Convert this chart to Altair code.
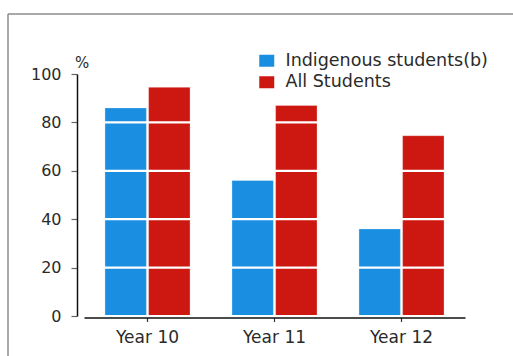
import altair as alt
import pandas as pd

# Apparent retention rates by year level
years = ["Year 10", "Year 11", "Year 12"]
groups = ["Indigenous students(b)", "All Students"]
indigenous = [86, 56, 36]
all_students = [94.5, 87, 74.5]
colors = ["#1a8fe2", "#cc1810"]
y_ticks = [0, 20, 40, 60, 80, 100]
grid_values = [0, 20, 40, 60, 80]

rows = []
for yr, a, b in zip(years, indigenous, all_students):
    rows.append({"year": yr, "group": groups[0], "pct": a})
    rows.append({"year": yr, "group": groups[1], "pct": b})
df = pd.DataFrame(rows)

FONT = "DejaVu Sans"
TEXT = "#2a2a2a"

bars = alt.Chart(df).mark_bar(stroke="white", strokeWidth=0.6, strokeOpacity=0.5).encode(
    x=alt.X(
        "year:N",
        sort=years,
        scale=alt.Scale(paddingInner=0.33, paddingOuter=0.165),
        axis=alt.Axis(
            title=None, labelAngle=0, labelFont=FONT, labelFontSize=17,
            labelColor=TEXT, labelPadding=8, domainColor="#111", domainWidth=1.5,
            tickColor="#333", tickSize=4, tickWidth=1.2, offset=1.5, grid=False,
            zindex=2,
        ),
    ),
    xOffset=alt.XOffset("group:N", sort=groups, scale=alt.Scale(paddingInner=0.05)),
    y=alt.Y(
        "pct:Q",
        scale=alt.Scale(domain=[0, 100], nice=False),
        axis=alt.Axis(
            values=y_ticks, title="%", titleAngle=0, titleAlign="center",
            titleBaseline="alphabetic", titleX=4.5, titleY=-7,
            titleFont=FONT, titleFontSize=15, titleFontWeight="normal", titleColor=TEXT,
            labelFont=FONT, labelFontSize=16, labelColor=TEXT, labelPadding=10,
            domainColor="#111", domainWidth=1.5, tickColor="#666", tickSize=6,
            tickWidth=1.2, offset=7, grid=False,
        ),
    ),
    color=alt.Color(
        "group:N",
        sort=groups,
        scale=alt.Scale(domain=groups, range=colors),
        legend=alt.Legend(
            title=None, orient="none", legendX=174, legendY=-22,
            symbolType="M-1,-0.8H1V0.8H-1Z", symbolSize=225, symbolStrokeWidth=0,
            labelFont=FONT, labelFontSize=17.5, labelColor=TEXT, labelOffset=10,
            labelLimit=0, rowPadding=2.5,
        ),
    ),
)

# White horizontal rules running across the bars
grid = alt.Chart(pd.DataFrame({"g": grid_values})).mark_rule(
    color="white", strokeWidth=2.2
).encode(y=alt.Y("g:Q", title="%"))

one = pd.DataFrame({"k": [0]})
frame_left = alt.Chart(one).mark_rule(color="#8c8c8c", strokeWidth=1.5).encode(
    x=alt.value(-76), y=alt.value(-60), y2=alt.value(300)
)
frame_top = alt.Chart(one).mark_rule(color="#8c8c8c", strokeWidth=1.5).encode(
    x=alt.value(-76), x2=alt.value(460), y=alt.value(-60)
)

chart = alt.layer(bars, grid, frame_left, frame_top).properties(
    width=381, height=242,
    autosize=alt.AutoSizeParams(type="none"),
    padding={"left": 84, "top": 74, "right": 48, "bottom": 40},
    background="white",
).configure_view(stroke=None)

chart.save("out.html", embed_options={"renderer": "svg", "actions": False})
